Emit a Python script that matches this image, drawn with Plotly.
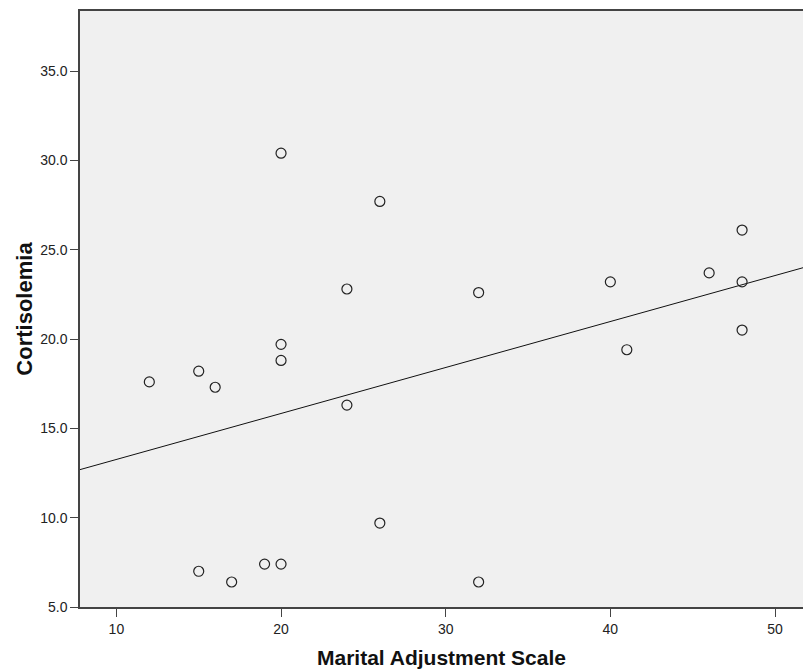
import numpy as np
import plotly.graph_objects as go

marital = [12, 15, 16, 15, 17, 19, 20, 20, 20, 20, 24, 24, 26, 26, 32, 32, 40, 41, 46, 48, 48, 48]
cortisol = [17.6, 18.2, 17.3, 7.0, 6.4, 7.4, 7.4, 30.4, 19.7, 18.8, 22.8, 16.3, 27.7, 9.7,
            22.6, 6.4, 23.2, 19.4, 23.7, 26.1, 23.2, 20.5]
x_ticks = [10, 20, 30, 40, 50]
y_ticks = [5.0, 10.0, 15.0, 20.0, 25.0, 30.0, 35.0]

x_range = [7.79, 51.70]
y_range = [5.0, 38.36]

slope, intercept = np.polyfit(marital, cortisol, 1)
fit_x = np.array(x_range)
fit_y = slope * fit_x + intercept

fig = go.Figure()
fig.add_trace(go.Scatter(
    x=fit_x, y=fit_y, mode="lines",
    line=dict(color="#111111", width=1), hoverinfo="skip", showlegend=False))
fig.add_trace(go.Scatter(
    x=marital, y=cortisol, mode="markers",
    marker=dict(symbol="circle-open", size=10, color="#222222", line=dict(width=1.2)),
    showlegend=False))

font_family = "Liberation Sans, Arial, sans-serif"
fig.update_layout(
    width=803, height=671,
    margin=dict(l=80, r=0, t=11, b=64),
    paper_bgcolor="white", plot_bgcolor="#f0f0f0",
    font=dict(family=font_family, size=14, color="#222222"),
    xaxis=dict(
        range=x_range, tickvals=x_ticks, ticktext=[str(v) for v in x_ticks],
        showgrid=False, zeroline=False, showline=True, linecolor="#444444", linewidth=1.5,
        mirror=True, ticks="outside", ticklen=8, tickcolor="#444444",
        tickfont=dict(size=14),
        title=dict(text="<b>Marital Adjustment Scale</b>", font=dict(size=21, color="#111111"), standoff=15),
    ),
    yaxis=dict(
        range=y_range, tickvals=y_ticks, ticktext=[f"{v:.1f}" for v in y_ticks],
        showgrid=False, zeroline=False, showline=True, linecolor="#444444", linewidth=1.5,
        mirror=False, ticks="outside", ticklen=8, tickcolor="#444444",
        tickfont=dict(size=14),
        title=dict(text="<b>Cortisolemia</b>", font=dict(size=22, color="#111111"), standoff=2),
    ),
)

fig.write_html(
    "out.html",
    config={"displayModeBar": False},
    post_script="document.body.style.margin='0';document.body.style.overflow='hidden';",
)
